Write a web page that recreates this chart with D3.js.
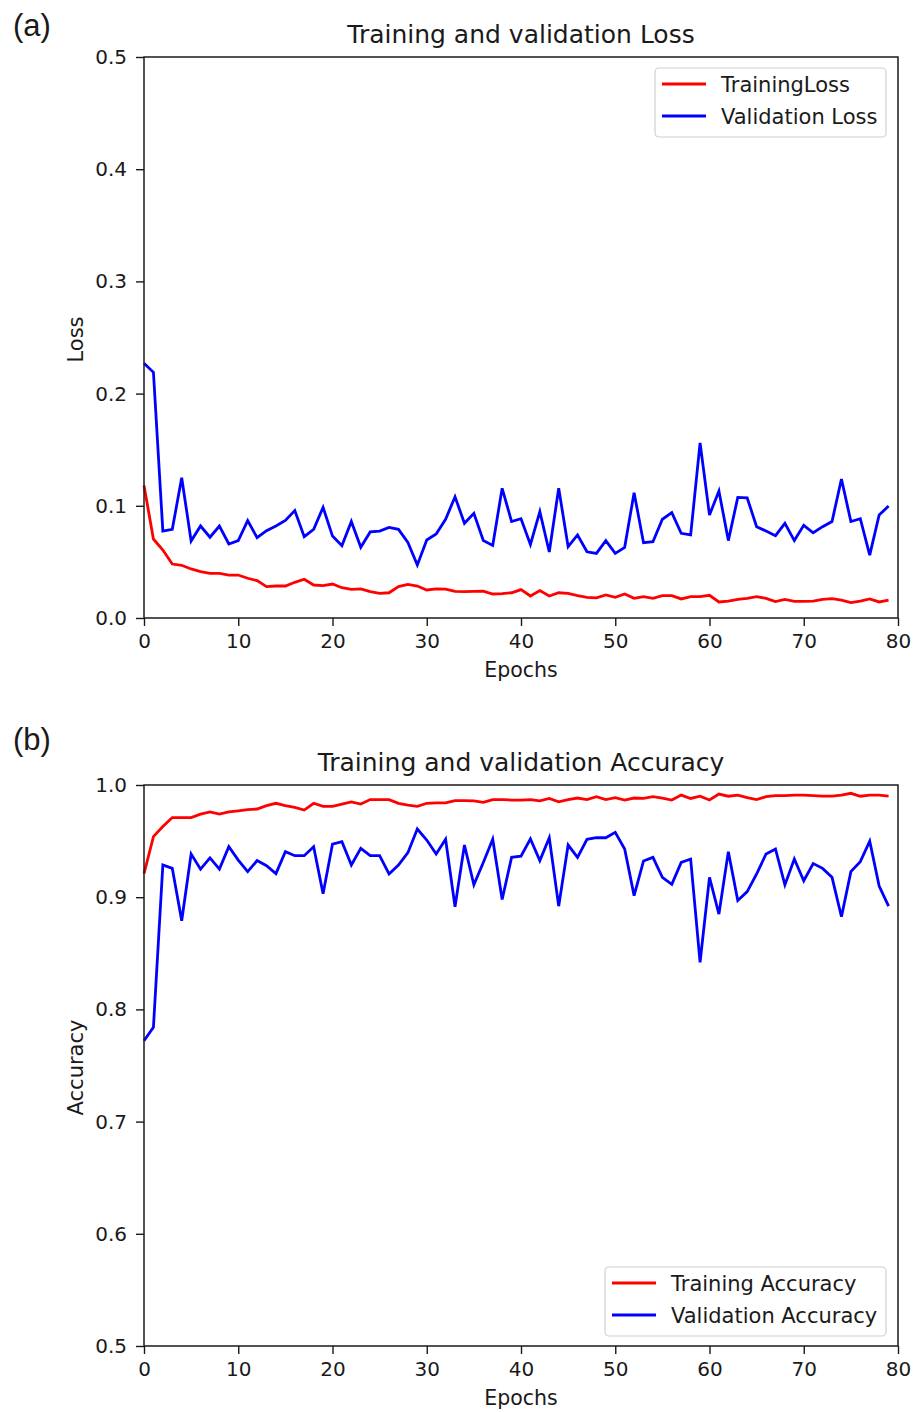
<!DOCTYPE html>
<html>
<head>
<meta charset="utf-8">
<script src="https://cdn.jsdelivr.net/npm/d3@7"></script>
<style>
  body { margin: 0; background: #fff; }
  svg text { font-family: "DejaVu Sans", sans-serif; fill: #1a1a1a; }
</style>
</head>
<body>
<div id="chart"></div>
<script>
// epochs 0..79
var epochs = d3.range(80);

var trainLoss = [0.118, 0.0704, 0.0606, 0.0481, 0.047, 0.0437, 0.0413, 0.0398, 0.0398, 0.0383,
  0.0383, 0.0354, 0.0333, 0.028, 0.0285, 0.0285, 0.0318, 0.0345, 0.0294, 0.0288,
  0.0303, 0.027, 0.0256, 0.026, 0.0235, 0.022, 0.0225, 0.028, 0.030, 0.0285,
  0.025, 0.026, 0.0258, 0.0237, 0.0235, 0.0237, 0.024, 0.0214, 0.0217, 0.0225,
  0.0253, 0.0196, 0.0244, 0.0196, 0.0225, 0.022, 0.020, 0.0184, 0.018, 0.0205,
  0.0184, 0.0214, 0.0175, 0.019, 0.0175, 0.020, 0.020, 0.017, 0.019, 0.019,
  0.0202, 0.0143, 0.015, 0.0166, 0.0175, 0.019, 0.0175, 0.0146, 0.0166, 0.0148,
  0.0148, 0.015, 0.0166, 0.0172, 0.016, 0.0137, 0.015, 0.017, 0.0143, 0.016];

var valLoss = [0.227, 0.219, 0.0775, 0.079, 0.125, 0.0686, 0.082, 0.072, 0.082, 0.066,
  0.069, 0.0868, 0.0716, 0.0778, 0.082, 0.087, 0.0957, 0.0725, 0.079, 0.0986,
  0.073, 0.0645, 0.086, 0.063, 0.0767, 0.0775, 0.0808, 0.079, 0.0674, 0.0472,
  0.0695, 0.0749, 0.088, 0.108, 0.0844, 0.0933, 0.069, 0.0647, 0.1156, 0.086,
  0.0885, 0.0656, 0.0948, 0.0588, 0.1156, 0.0636, 0.074, 0.059, 0.0576, 0.069,
  0.0576, 0.063, 0.1117, 0.0671, 0.068, 0.088, 0.0939, 0.0755, 0.074, 0.156,
  0.0918, 0.1132, 0.069, 0.1075, 0.107, 0.0814, 0.0775, 0.0734, 0.0844, 0.069,
  0.0826, 0.076, 0.0814, 0.086, 0.1239, 0.086, 0.0885, 0.0561, 0.0918, 0.0998];

var trainAcc = [0.921, 0.954, 0.963, 0.971, 0.971, 0.971, 0.974, 0.976, 0.974, 0.976,
  0.977, 0.978, 0.9786, 0.9816, 0.9837, 0.9816, 0.980, 0.9777, 0.9837, 0.981,
  0.981, 0.983, 0.985, 0.983, 0.987, 0.987, 0.987, 0.9837, 0.982, 0.981,
  0.9837, 0.984, 0.984, 0.986, 0.986, 0.9858, 0.9845, 0.987, 0.987, 0.9866,
  0.9866, 0.987, 0.9858, 0.988, 0.985, 0.987, 0.9884, 0.987, 0.9896, 0.987,
  0.9887, 0.9866, 0.9884, 0.988, 0.9896, 0.9884, 0.9866, 0.991, 0.988, 0.990,
  0.9866, 0.9919, 0.990, 0.991, 0.9887, 0.987, 0.9896, 0.9905, 0.9905, 0.991,
  0.991, 0.9905, 0.990, 0.990, 0.991, 0.9926, 0.990, 0.991, 0.991, 0.990];

var valAcc = [0.772, 0.784, 0.9287, 0.9257, 0.879, 0.9385, 0.925, 0.935, 0.925, 0.945,
  0.933, 0.9228, 0.9326, 0.928, 0.921, 0.9406, 0.937, 0.937, 0.945, 0.903,
  0.9474, 0.9495, 0.9287, 0.9436, 0.937, 0.937, 0.9207, 0.9287, 0.9397, 0.9608,
  0.951, 0.9385, 0.9516, 0.8915, 0.9465, 0.911, 0.931, 0.9516, 0.898, 0.9355,
  0.9365, 0.952, 0.9326, 0.953, 0.892, 0.9465, 0.9355, 0.9516, 0.953, 0.953,
  0.9578, 0.943, 0.9014, 0.9323, 0.9355, 0.9177, 0.9115, 0.931, 0.934, 0.842,
  0.9177, 0.885, 0.9406, 0.897, 0.905, 0.9207, 0.9385, 0.943, 0.911, 0.934,
  0.9147, 0.930, 0.9257, 0.9177, 0.8826, 0.9228, 0.9317, 0.950, 0.910, 0.892];

var xTicks = [0, 10, 20, 30, 40, 50, 60, 70, 80];
var lossTicks = [0.0, 0.1, 0.2, 0.3, 0.4, 0.5];
var accTicks = [0.5, 0.6, 0.7, 0.8, 0.9, 1.0];

var W = 920, H = 1412;
var svg = d3.select("#chart").append("svg")
  .attr("width", W).attr("height", H);

function drawPanel(opt) {
  var left = 144, right = 898;
  var x = d3.scaleLinear().domain([0, 80]).range([left, right]);
  var y = d3.scaleLinear().domain(opt.yDomain).range([opt.bottom, opt.top]);
  var g = svg.append("g");

  // axes
  var xa = g.append("g")
    .attr("transform", "translate(0," + opt.bottom + ")")
    .call(d3.axisBottom(x).tickValues(xTicks).tickFormat(d3.format("d")).tickSize(8).tickPadding(8));
  var ya = g.append("g")
    .attr("transform", "translate(" + left + ",0)")
    .call(d3.axisLeft(y).tickValues(opt.yTicks).tickFormat(d3.format(".1f")).tickSize(8).tickPadding(9));
  [xa, ya].forEach(function (a) {
    a.select(".domain").remove();
    a.selectAll("line").attr("stroke", "#1a1a1a").attr("stroke-width", 1.4);
    a.selectAll("text").style("font-size", "20px").style("font-family", "DejaVu Sans").attr("fill", "#1a1a1a");
  });

  // lines
  var line = d3.line().x(function (d, i) { return x(i); }).y(function (d) { return y(d); });
  g.append("path").datum(opt.s1).attr("d", line)
    .attr("fill", "none").attr("stroke", "#ff0000").attr("stroke-width", 2.8);
  g.append("path").datum(opt.s2).attr("d", line)
    .attr("fill", "none").attr("stroke", "#0000ff").attr("stroke-width", 2.8);

  // frame
  g.append("rect").attr("x", left).attr("y", opt.top)
    .attr("width", right - left).attr("height", opt.bottom - opt.top)
    .attr("fill", "none").attr("stroke", "#1a1a1a").attr("stroke-width", 1.5);

  // title & labels
  g.append("text").attr("x", (left + right) / 2).attr("y", opt.top - 14)
    .attr("text-anchor", "middle").style("font-size", "25px").text(opt.title);
  g.append("text").attr("x", (left + right) / 2).attr("y", opt.bottom + 59)
    .attr("text-anchor", "middle").style("font-size", "20.5px").text("Epochs");
  g.append("text")
    .attr("transform", "translate(83," + ((opt.top + opt.bottom) / 2 + 2) + ") rotate(-90)")
    .attr("text-anchor", "middle").style("font-size", "21px").text(opt.yLabel);

  // legend
  var L = opt.legend;
  g.append("rect").attr("x", L.x).attr("y", L.y).attr("width", L.w).attr("height", 69)
    .attr("rx", 4).attr("fill", "#fff").attr("stroke", "#d0d0d0").attr("stroke-width", 1.2);
  [[opt.names[0], "#ff0000"], [opt.names[1], "#0000ff"]].forEach(function (e, i) {
    var cy = L.y + 16 + i * 32;
    g.append("line").attr("x1", L.x + 7).attr("x2", L.x + 51)
      .attr("y1", cy).attr("y2", cy).attr("stroke", e[1]).attr("stroke-width", 2.8);
    g.append("text").attr("x", L.x + 66).attr("y", cy + 7.5)
      .style("font-size", "21px").text(e[0]);
  });

  // panel label
  g.append("text").attr("x", opt.lab.x).attr("y", opt.lab.y)
    .style("font-family", "'Liberation Sans', Arial, sans-serif").style("font-size", "31px").attr("fill", "#111")
    .text(opt.lab.text);
}

drawPanel({
  top: 57, bottom: 618, yDomain: [0, 0.5], yTicks: lossTicks,
  s1: trainLoss, s2: valLoss,
  title: "Training and validation Loss", yLabel: "Loss",
  names: ["TrainingLoss", "Validation Loss"],
  legend: { x: 655, y: 68, w: 231 },
  lab: { x: 13, y: 36, text: "(a)" }
});

drawPanel({
  top: 785, bottom: 1346, yDomain: [0.5, 1.0], yTicks: accTicks,
  s1: trainAcc, s2: valAcc,
  title: "Training and validation Accuracy", yLabel: "Accuracy",
  names: ["Training Accuracy", "Validation Accuracy"],
  legend: { x: 605, y: 1267, w: 281 },
  lab: { x: 13, y: 750, text: "(b)" }
});
</script>
</body>
</html>
